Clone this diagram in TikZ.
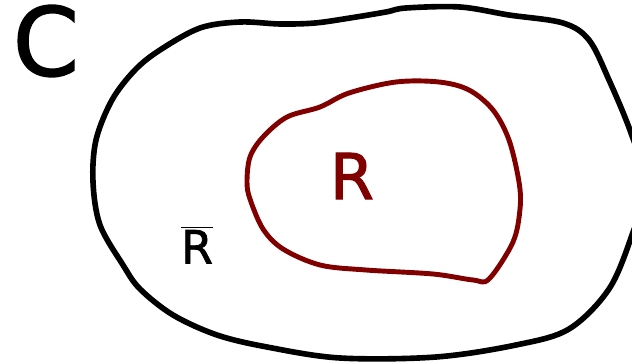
\documentclass[tikz,border=0pt]{standalone}
\usepackage{fontspec}
\setmainfont{DejaVu Sans}
\newfontfamily\handfont[FakeBold=1.6]{DejaVu Sans}
\definecolor{darkred}{RGB}{128,0,0}
\begin{document}
\begin{tikzpicture}[x=0.02cm,y=-0.02cm,
  outline/.style={line width=3.2pt,line join=round,line cap=round},
  lbl/.style={inner sep=0pt}]
\useasboundingbox (0,0) rectangle (632,364);
\clip (0,0) rectangle (632,364);
% outer region C
\draw[outline,black] plot[smooth cycle,tension=0.55] coordinates {
 (93,182) (96,140) (112,100) (135,70) (160,50) (200,28) (240,22) (280,24)
 (315,23) (350,18) (386,12) (406,8) (460,7) (509,15) (563,23) (589,40)
 (609,80) (631,133) (646,185) (632,235) (609,289) (569,329) (516,345)
 (436,357) (340,358) (267,347) (217,335) (173,315) (140,289) (123,265) (100,225)};
% inner region R
\draw[outline,darkred,line width=2.8pt] plot[smooth cycle,tension=0.55] coordinates {
 (247,182) (250,157) (263,137) (287,117) (320,107) (349,93) (396,82) (439,82)
 (469,90) (493,110) (509,140) (519,182) (520,209) (513,242) (489,279) (473,280)
 (433,274) (366,270) (320,265) (283,249) (263,229) (250,199)};
\node[lbl,font=\handfont\fontsize{54}{54}\selectfont] (c) at (46,41) {C};
\node[lbl,text=darkred,font=\handfont\fontsize{36}{36}\selectfont] (r) at (352,176) {R};
\node[lbl,font=\handfont\fontsize{26}{26}\selectfont] (rbar) at (197,245) {$\overline{\mbox{R}}$};
\end{tikzpicture}
\end{document}
